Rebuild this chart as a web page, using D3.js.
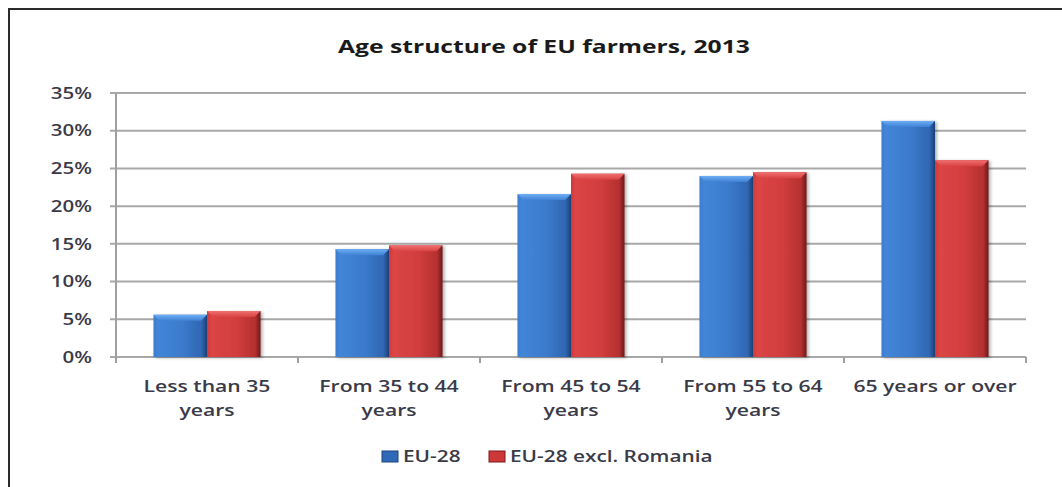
<!DOCTYPE html>
<html>
<head>
<meta charset="utf-8">
<script src="https://cdn.jsdelivr.net/npm/d3@7/dist/d3.min.js"></script>
<style>
  html, body { margin: 0; padding: 0; background: #fff; }
  svg { display: block; }
  text { font-family: "Open Sans", "DejaVu Sans", sans-serif; }
</style>
</head>
<body>
<svg id="chart" width="1062" height="487"></svg>
<script>
// ---- data ----
const title = "Age structure of EU farmers, 2013";
const categories = [
  ["Less than 35", "years"],
  ["From 35 to 44", "years"],
  ["From 45 to 54", "years"],
  ["From 55 to 64", "years"],
  ["65 years or over"]
];
const seriesNames = ["EU-28", "EU-28 excl. Romania"];
const eu28 = [5.6, 14.3, 21.6, 24.0, 31.3];
const eu28ExclRomania = [6.1, 14.8, 24.3, 24.5, 26.1];
const yTicks = [0, 5, 10, 15, 20, 25, 30, 35];

// ---- layout ----
const W = 1062, H = 487;
const plot = { left: 116, right: 1026, top: 93, bottom: 357 };
const svg = d3.select("#chart");

const defs = svg.append("defs");
function grad(id, stops, x2, y2) {
  const g = defs.append("linearGradient").attr("id", id)
    .attr("x1", 0).attr("y1", 0).attr("x2", x2).attr("y2", y2);
  stops.forEach(s => g.append("stop").attr("offset", s[0]).attr("stop-color", s[1]));
}
grad("gBlue", [[0, "#3b7ccd"], [0.08, "#4286d8"], [0.55, "#3b7acb"], [0.9, "#2f66b2"], [1, "#1c3f75"]], 1, 0);
grad("gRed", [[0, "#cf3a3a"], [0.08, "#dc4545"], [0.55, "#d23d3d"], [0.9, "#b53030"], [1, "#6e1717"]], 1, 0);
grad("gBlueTop", [[0, "#6eaef5"], [1, "#3f82d4"]], 0, 1);
grad("gRedTop", [[0, "#f07070"], [1, "#d94343"]], 0, 1);
const f = defs.append("filter").attr("id", "shadow").attr("x", "-20%").attr("y", "-10%").attr("width", "150%").attr("height", "130%");
f.append("feDropShadow").attr("dx", 2).attr("dy", 1).attr("stdDeviation", 1.5).attr("flood-color", "#000").attr("flood-opacity", 0.3);

// frame
svg.append("path").attr("d", `M9,${H + 5} L9,9 L${W + 5},9`)
  .attr("fill", "none").attr("stroke", "#2b2b2b").attr("stroke-width", 2);

// scales
const x0 = d3.scaleBand().domain(d3.range(categories.length)).range([plot.left, plot.right]).paddingInner(0).paddingOuter(0);
const x1 = d3.scaleBand().domain(seriesNames).range([0, x0.bandwidth()]).paddingInner(0).paddingOuter(0.7);
const y = d3.scaleLinear().domain([0, 35]).range([plot.bottom, plot.top]);

// gridlines
svg.append("g").selectAll("line").data(yTicks).join("line")
  .attr("x1", plot.left - 6).attr("x2", plot.right)
  .attr("y1", d => y(d)).attr("y2", d => y(d))
  .attr("stroke", "#a8a8a8").attr("stroke-width", 2);

// y axis line
svg.append("line").attr("x1", plot.left).attr("x2", plot.left)
  .attr("y1", plot.top).attr("y2", plot.bottom + 6)
  .attr("stroke", "#a0a0a0").attr("stroke-width", 2);

// x ticks
svg.append("g").selectAll("line").data(d3.range(categories.length + 1)).join("line")
  .attr("x1", i => plot.left + i * x0.step()).attr("x2", i => plot.left + i * x0.step())
  .attr("y1", plot.bottom).attr("y2", plot.bottom + 6)
  .attr("stroke", "#a0a0a0").attr("stroke-width", 2);

// horizontal stretch helper (the reference text is wide)
function stretch(sx) {
  return sel => sel.each(function () {
    const len = this.getComputedTextLength();
    d3.select(this).attr("textLength", len * sx).attr("lengthAdjust", "spacingAndGlyphs");
  });
}

// y labels
svg.append("g").selectAll("text").data(yTicks).join("text")
  .attr("x", 92).attr("y", d => y(d)).attr("dy", "0.36em")
  .attr("text-anchor", "end").attr("font-size", 16).attr("font-weight", 600)
  .attr("fill", "#3a3a48")
  .text(d => d + "%")
  .call(stretch(1.28));

// bars
const series = [eu28, eu28ExclRomania];
const fills = ["url(#gBlue)", "url(#gRed)"];
const tops = ["url(#gBlueTop)", "url(#gRedTop)"];
const barData = [];
series.forEach((vals, s) => vals.forEach((v, i) => barData.push({ s, i, v })));
const bars = svg.append("g").selectAll("g").data(barData).join("g").attr("filter", "url(#shadow)");
bars.append("rect")
  .attr("x", d => x0(d.i) + x1(seriesNames[d.s]))
  .attr("y", d => y(d.v))
  .attr("width", x1.bandwidth())
  .attr("height", d => y(0) - y(d.v))
  .attr("fill", d => fills[d.s]);
bars.append("path")
  .attr("d", d => {
    const xl = x0(d.i) + x1(seriesNames[d.s]), xr = xl + x1.bandwidth(), yt = y(d.v), b = 6;
    return `M${xl},${yt} L${xr},${yt} L${xr - b},${yt + b} L${xl + b},${yt + b} Z`;
  })
  .attr("fill", d => tops[d.s]);

// category labels
const catG = svg.append("g").selectAll("text").data(categories).join("text")
  .attr("text-anchor", "middle").attr("font-size", 16).attr("font-weight", 600)
  .attr("fill", "#3a3a48");
catG.each(function (lines, i) {
  const t = d3.select(this);
  lines.forEach((ln, k) => {
    t.append("tspan").attr("x", x0(i) + x0.bandwidth() / 2).attr("y", 392 + k * 24).text(ln);
  });
});
catG.selectAll("tspan").call(stretch(1.32));

// title
svg.append("text").attr("x", 544).attr("y", 53).attr("text-anchor", "middle")
  .attr("font-size", 18).attr("font-weight", 700).attr("fill", "#1a1a1a")
  .text(title).call(stretch(1.37));

// legend
const legX = [382, 489];
const legColors = [["#2e6ab8", "#1d447c"], ["#cf3838", "#7a1a1a"]];
seriesNames.forEach((name, s) => {
  const g = svg.append("g");
  g.append("rect").attr("x", legX[s]).attr("y", 451).attr("width", 16).attr("height", 11)
    .attr("fill", legColors[s][0]).attr("stroke", legColors[s][1]).attr("stroke-width", 1);
  g.append("text").attr("x", legX[s] + 21).attr("y", 462)
    .attr("font-size", 16).attr("font-weight", 600).attr("fill", "#3a3a48")
    .text(name).call(stretch(1.3));
});
</script>
</body>
</html>
